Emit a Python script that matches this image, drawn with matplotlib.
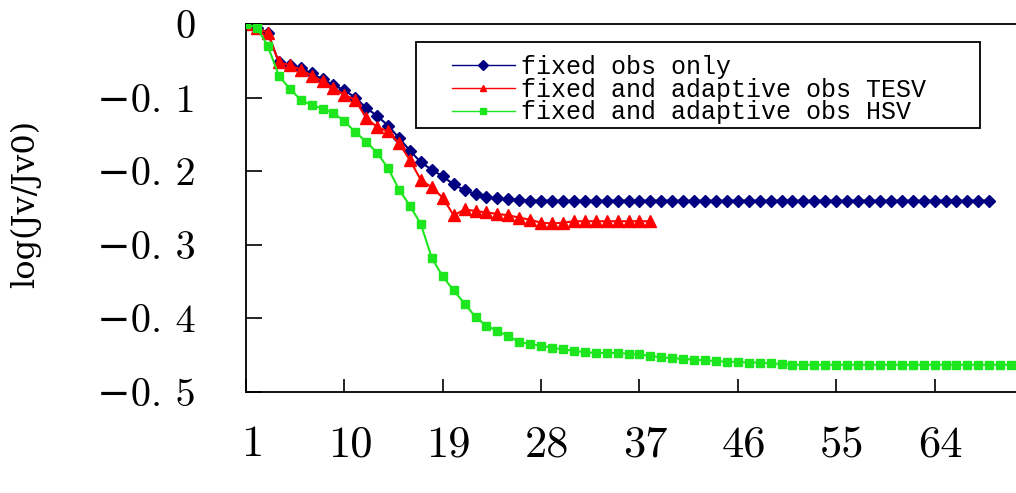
import numpy as np
import matplotlib
matplotlib.use("Agg")
import matplotlib.pyplot as plt
import matplotlib.transforms as mtransforms
from matplotlib.patches import Rectangle

# series (x = iteration index starting at 1)
fixed_only = [0, -0.005, -0.012, -0.052, -0.056, -0.06, -0.067, -0.075, -0.083, -0.09,
              -0.1, -0.114, -0.125, -0.138, -0.155, -0.172, -0.188, -0.198, -0.207, -0.218,
              -0.226, -0.231, -0.235, -0.237, -0.238, -0.239] + [-0.24] * 43
tesv = [0, -0.005, -0.012, -0.052, -0.056, -0.062, -0.07, -0.078, -0.087, -0.096,
        -0.103, -0.128, -0.14, -0.146, -0.162, -0.185, -0.212, -0.222, -0.236, -0.26,
        -0.252, -0.254, -0.256, -0.258, -0.26, -0.263, -0.266, -0.27, -0.271, -0.27] + [-0.268] * 8
hsv = [0, -0.005, -0.03, -0.07, -0.088, -0.103, -0.11, -0.115, -0.121, -0.132,
       -0.147, -0.16, -0.175, -0.196, -0.225, -0.247, -0.272, -0.318, -0.343, -0.362,
       -0.38, -0.398, -0.41, -0.417, -0.424, -0.432, -0.435, -0.437, -0.44, -0.442,
       -0.444, -0.446, -0.447, -0.447, -0.447, -0.448, -0.449, -0.451, -0.453, -0.454,
       -0.455, -0.456, -0.457, -0.458, -0.459, -0.459, -0.46, -0.46, -0.461, -0.462] + [-0.463] * 22

labels = ["fixed obs only", "fixed and adaptive obs TESV", "fixed and adaptive obs HSV"]
xticks = [1, 10, 19, 28, 37, 46, 55, 64]
yticks = [0, -0.1, -0.2, -0.3, -0.4, -0.5]
ytick_labels = ["0", "\u22120. 1", "\u22120. 2", "\u22120. 3", "\u22120. 4", "\u22120. 5"]

fig = plt.figure(figsize=(10.16, 4.93), dpi=100)
# axes runs past the right edge of the picture, as in the reference
ax = fig.add_axes([246 / 1016, 101 / 493, 72 * 10.93 / 1016, 368 / 493])

ax.plot(np.arange(1, len(fixed_only) + 1), fixed_only, color="#000080", lw=1.5,
        marker="D", ms=6, label=labels[0], zorder=1)
ax.plot(np.arange(1, len(tesv) + 1), tesv, color="#ff0000", lw=1.5,
        marker="^", ms=8, label=labels[1], zorder=2)
ax.plot(np.arange(1, len(hsv) + 1), hsv, color="#1ee61e", lw=1.5,
        marker="s", ms=5.5, label=labels[2], zorder=3)

ax.set_xlim(1, 73)
ax.set_ylim(-0.5, 0)

tick_font = ["cmr10", "DejaVu Serif"]
ax.set_xticks(xticks)
ax.set_xticklabels([str(t) for t in xticks], family=tick_font, fontsize=32)
ax.set_yticks(yticks)
ax.set_yticklabels(ytick_labels, family=tick_font, fontsize=29)
ax.tick_params(axis="x", direction="in", length=9.5, width=1.2, pad=24)
ax.tick_params(axis="y", direction="in", length=11.5, width=1.2, pad=36)

# x labels sit a few pixels right of their ticks in the reference
shift = mtransforms.ScaledTranslation(6 / 100, 0, fig.dpi_scale_trans)
for lab in ax.get_xticklabels():
    lab.set_transform(lab.get_transform() + shift)

for s in ax.spines.values():
    s.set_linewidth(1.3)

ax.set_ylabel("log(Jv/Jv0)", family="DejaVu Serif", fontsize=23)
ax.yaxis.set_label_coords(-0.26, 0.51)

# legend box drawn by hand to match the reference frame
fig.add_artist(Rectangle((416 / 1016, 1 - 128 / 493), 564 / 1016, 86 / 493,
                         transform=fig.transFigure, fill=False, lw=1.3, ec="black"))
leg = ax.legend(loc="upper left", bbox_to_anchor=(452 / 1016, 1 - 55 / 493),
                bbox_transform=fig.transFigure, frameon=False, borderpad=0,
                borderaxespad=0, handlelength=2.5, handletextpad=0.25,
                labelspacing=-0.05, prop={"family": "Liberation Mono", "size": 18})
for h in leg.legend_handles:
    h.set_linewidth(1.0)
    h.set_markersize(5)

fig.savefig("out.png", dpi=100)
